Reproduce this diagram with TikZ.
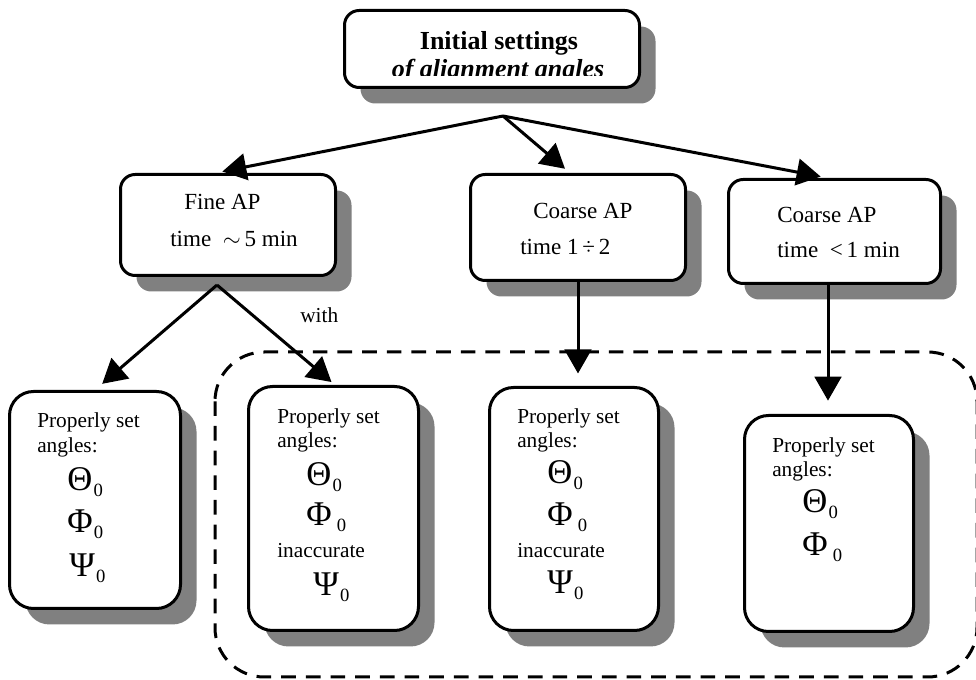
\documentclass[tikz,border=0pt]{standalone}
\usepackage{fontspec}
\setmainfont{Liberation Serif}
\usetikzlibrary{arrows.meta,shadows,calc}
\newcommand{\gsub}[2][1pt]{{\fontsize{26}{26}\selectfont #2}\kern#1\raisebox{-4.5pt}{\fontsize{14}{14}\selectfont 0}}
\tikzset{
  box/.style={draw,line width=2.25pt,fill=white,inner sep=0pt,
    drop shadow={shadow xshift=12pt,shadow yshift=-12pt,fill=black!50,opacity=1}},
  upbox/.style={box,rounded corners=11pt},
  lowbox/.style={box,rounded corners=18pt},
  lbl/.style={anchor=base west,inner sep=0pt,font=\fontsize{16}{16}\selectfont},
  ulbl/.style={anchor=base west,inner sep=0pt,font=\fontsize{17.3}{17.3}\selectfont},
  glbl/.style={anchor=base west,inner sep=0pt},
  arr/.style={line width=2.25pt,-{Triangle[length=18pt,width=20pt]}},
  dashbox/.style={line width=2.25pt,dash pattern=on 11pt off 7.5pt,rounded corners=37pt}
}
\begin{document}
\begin{tikzpicture}[x=0.75pt,y=-0.75pt]
\useasboundingbox (0,0) rectangle (976,680);
% dashed group
\draw[dashbox] (215,352) rectangle (977,677);
% top box
\node[upbox,minimum width=221.25pt,minimum height=57.75pt] (top) at (492,49) {};
\begin{scope}
  \clip (343,9) rectangle (641,76);
  \node[anchor=base,inner sep=0pt,font=\fontsize{19.5}{19.5}\selectfont\bfseries] (t1) at (499,50) {Initial settings};
  \node[anchor=base,inner sep=0pt,font=\fontsize{19.5}{19.5}\selectfont\bfseries\itshape] (t2) at (498,77.5) {of alignment angles};
\end{scope}
% upper boxes
\node[upbox,minimum width=161.25pt,minimum height=75.75pt] (fine) at (228,225) {};
\node[upbox,minimum width=161.25pt,minimum height=79.5pt] (c1) at (578,227.5) {};
\node[upbox,minimum width=159pt,minimum height=78pt] (c2) at (834.5,231.5) {};
\node[ulbl] (fineA) at (184,210) {Fine AP};
\node[ulbl] (fineB) at (170,247) {time \ $\sim$\,5 min};
\node[ulbl] (c1A) at (533,219) {Coarse AP};
\node[ulbl] (c1B) at (520,255) {time 1\,÷\,2};
\node[ulbl] (c2A) at (777,223) {Coarse AP};
\node[ulbl] (c2B) at (777,258) {time \ <\,1 min};
% lower boxes
\node[lowbox,minimum width=128.25pt,minimum height=162.75pt] (bL) at (95,500) {};
\node[lowbox,minimum width=127.5pt,minimum height=183pt] (b2) at (333.5,508.5) {};
\node[lowbox,minimum width=126.75pt,minimum height=182.25pt] (b3) at (574,509) {};
\node[lowbox,minimum width=126.75pt,minimum height=162pt] (b4) at (829,523.5) {};
% texts box L
\node[lbl] (bLa) at (37,428) {Properly set};
\node[lbl] (bLb) at (37,453) {angles:};
\node[glbl] (bLt) at (67,491) {\gsub{Θ}};
\node[glbl] (bLp) at (67,533) {\gsub{Φ}};
\node[glbl] (bLs) at (69,577) {\gsub{Ψ}};
% texts box 2
\node[lbl] (b2a) at (277,424) {Properly set};
\node[lbl] (b2b) at (277,448) {angles:};
\node[glbl] (b2t) at (306,486) {\gsub{Θ}};
\node[glbl] (b2p) at (306,526) {\gsub[4pt]{Φ}};
\node[lbl] (b2i) at (277,558) {inaccurate};
\node[glbl] (b2s) at (313,596) {\gsub{Ψ}};
% texts box 3
\node[lbl] (b3a) at (517,424) {Properly set};
\node[lbl] (b3b) at (517,448) {angles:};
\node[glbl] (b3t) at (547,484) {\gsub{Θ}};
\node[glbl] (b3p) at (547,526) {\gsub[4pt]{Φ}};
\node[lbl] (b3i) at (517,558) {inaccurate};
\node[glbl] (b3s) at (547,594) {\gsub{Ψ}};
% texts box 4
\node[lbl] (b4a) at (772,453) {Properly set};
\node[lbl] (b4b) at (772,477) {angles:};
\node[glbl] (b4t) at (802,513) {\gsub{Θ}};
\node[glbl] (b4p) at (802,556) {\gsub[4pt]{Φ}};
% with label
\node[lbl] (with) at (300,323) {with};
% connectors
\coordinate (apex) at (503,116);
\coordinate (fj) at (217,285);
\draw[arr,shorten >=5.6pt] (apex) -- (215,0 |- fine.north);
\draw[arr,shorten >=4.9pt] (apex) -- (570,0 |- c1.north);
\draw[arr,shorten >=5.6pt] (apex) -- (828,0 |- c2.north);
\draw[arr,shorten >=7.1pt] (fj) -- (95,0 |- bL.north);
\draw[arr,shorten >=3.4pt] (fj) -- (335,0 |- b2.north);
\draw[arr,shorten >=9.4pt] (578,0 |- c1.south) -- (578,0 |- b3.north);
\draw[arr,shorten >=10pt] (828,0 |- c2.south) -- (828,0 |- b4.north);
\end{tikzpicture}
\end{document}
